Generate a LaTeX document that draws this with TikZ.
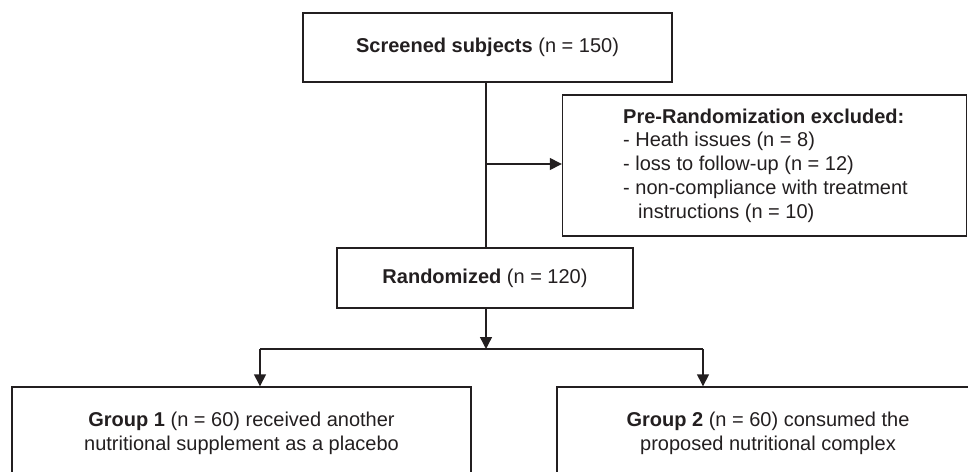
\documentclass[tikz,border=0pt]{standalone}
\usepackage{fontspec}
\setmainfont{Liberation Sans}
\usetikzlibrary{arrows.meta}
\definecolor{ink}{HTML}{231F20}
\begin{document}
\begin{tikzpicture}[x=1pt,y=-1pt,
  font=\fontsize{20}{23.7}\selectfont,
  box/.style={draw=ink,line width=1.4pt,text=ink,inner sep=0pt,align=center},
  conn/.style={draw=ink,line width=1.4pt},
  arr/.style={conn,-{Triangle[length=12pt,width=12pt]}}]
\useasboundingbox (0,0) rectangle (968,471);
\clip (0,0) rectangle (968,471);
\node[box,minimum width=369pt,minimum height=69pt] (scr) at (487.5,47.5) {\textbf{Screened subjects} (n = 150)};
\node[box,minimum width=296pt,minimum height=60pt] (rand) at (485,278) {\textbf{Randomized} (n = 120)};
\node[box,minimum width=404pt,minimum height=141pt] (excl) at (764.5,165.5) {};
\node[text=ink,anchor=west,align=left,inner sep=0pt] (exctext) at (623,165.5) {\textbf{Pre-Randomization excluded:}\\- Heath issues (n = 8)\\- loss to follow-up (n = 12)\\- non-compliance with treatment\\\hspace*{15pt}instructions (n = 10)};
\node[box,minimum width=459pt,minimum height=92pt] (g1) at (241.5,433) {\textbf{Group 1} (n = 60) received another\\nutritional supplement as a placebo};
\node[box,minimum width=422pt,minimum height=92pt] (g2) at (768,433) {\textbf{Group 2} (n = 60) consumed the\\proposed nutritional complex};
\coordinate (tap) at (486,164);
\coordinate (split) at (486,349);
\coordinate (jl) at (260,349);
\coordinate (jr) at (703,349);
\draw[conn] (scr.south -| tap) -- (rand.north -| tap);
\draw[arr] (tap) -- (excl.west |- tap);
\draw[arr] (rand.south -| split) -- (split);
\draw[conn] (jl) -- (jr);
\draw[arr] (jl) -- (g1.north -| jl);
\draw[arr] (jr) -- (g2.north -| jr);
\end{tikzpicture}
\end{document}
